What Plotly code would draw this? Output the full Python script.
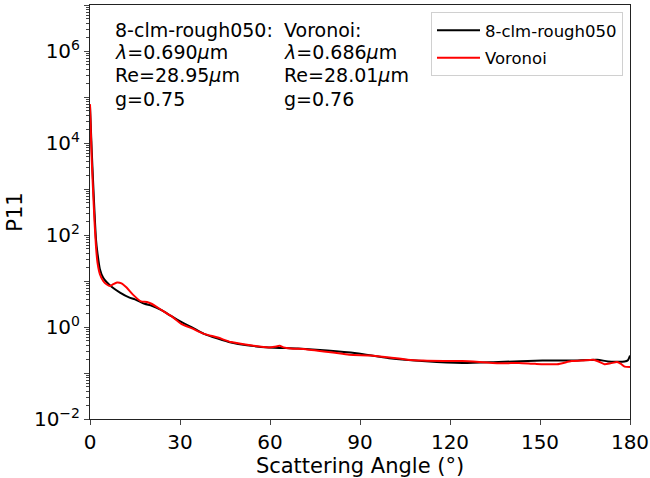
import plotly.graph_objects as go

# --- data ---
angle_black = [0, 0.3, 0.6, 1.0, 1.5, 2.0, 2.5, 3.3, 4.4, 5.5, 7.3, 10, 13, 15, 18.2, 20.6, 24, 27,
               30.4, 34, 38, 42.6, 47, 52.3, 59.6, 69.3, 79.1, 88.8, 99.7, 111.9, 124.1, 136.2,
               150.8, 160.5, 169.1, 172.7, 178.2, 179.3, 180]
p11_black = [63000, 20000, 6300, 1600, 320, 80, 40, 18, 11.7, 9.5, 7.4, 5.6, 4.4, 4.0, 3.2, 2.9, 2.3, 1.74,
             1.29, 0.98, 0.71, 0.56, 0.46, 0.40, 0.36, 0.34, 0.31, 0.27, 0.21, 0.18, 0.166, 0.174,
             0.186, 0.186, 0.195, 0.178, 0.178, 0.19, 0.24]

angle_red = [0, 0.3, 0.6, 1.0, 1.5, 2.0, 2.5, 3.3, 4.4, 5.5, 6.7, 7.5, 9, 10.5, 12.2, 14.4, 17, 19, 20.5,
             24, 27, 30.4, 34, 38, 42.6, 47, 53.5, 59.6, 61.5, 63.2, 64.5, 66.9, 72, 76.6, 81, 86.4,
             93.6, 99, 105.8, 111, 117.9, 124.1, 130, 137.4, 143, 148.4, 155.7, 160.5, 164, 167.8,
             169.5, 171.5, 173.5, 175.7, 177, 178.2, 180]
p11_red = [70000, 16000, 4000, 1000, 200, 56, 25, 14, 10, 8.5, 7.8, 8.3, 9.3, 8.9, 7.2, 5.0, 3.6, 3.5, 3.2,
           2.3, 1.74, 1.17, 0.93, 0.71, 0.59, 0.47, 0.40, 0.36, 0.37, 0.39, 0.36, 0.34, 0.33, 0.30, 0.28, 0.25,
           0.24, 0.22, 0.195, 0.186, 0.182, 0.182, 0.174, 0.162, 0.166, 0.158, 0.155, 0.182, 0.186, 0.195,
           0.178, 0.155, 0.162, 0.174, 0.158, 0.138, 0.135]

x_ticks = [0, 30, 60, 90, 120, 150, 180]
y_tickvals = [1e-2, 1e-1, 1e0, 1e1, 1e2, 1e3, 1e4, 1e5, 1e6, 1e7]
y_ticktext = ["10<sup>−2</sup>", "", "10<sup>0</sup>", "", "10<sup>2</sup>", "",
              "10<sup>4</sup>", "", "10<sup>6</sup>", ""]
y_decades = [-2, -1, 0, 1, 2, 3, 4, 5, 6]
y_minor_digits = [2, 3, 4, 5, 6, 7, 8, 9]

name_black = "8-clm-rough050"
name_red = "Voronoi"
lines_black = ["8-clm-rough050:", "<i>λ</i>=0.690<i>μ</i>m", "Re=28.95<i>μ</i>m", "g=0.75"]
lines_red = ["Voronoi:", "<i>λ</i>=0.686<i>μ</i>m", "Re=28.01<i>μ</i>m", "g=0.76"]

FONT = "DejaVu Sans"
W, H = 650, 478
ML, MR, MT, MB = 90, 20, 5, 59
plot_h = H - MT - MB
plot_w = W - ML - MR

minor_vals = [d * 10 ** e for e in y_decades for d in y_minor_digits]

fig = go.Figure()
fig.add_trace(go.Scatter(x=angle_black, y=p11_black, mode="lines", name=name_black, legendgroup="a",
                         line=dict(color="black", width=2, shape="spline", smoothing=0.6)))
fig.add_trace(go.Scatter(x=angle_red, y=p11_red, mode="lines", name=name_red, legendgroup="b",
                         line=dict(color="#ff0000", width=2, shape="spline", smoothing=0.6)))

line_centers_px = [29.5, 52.5, 75.5, 98.5]
for col_x_px, lines in ((113, lines_black), (282, lines_red)):
    for ypx, txt in zip(line_centers_px, lines):
        fig.add_annotation(x=(col_x_px - ML) / plot_w, y=1 - (ypx - MT) / plot_h,
                           xref="paper", yref="paper", xanchor="left", yanchor="middle",
                           text=txt, showarrow=False, align="left",
                           font=dict(family=FONT, size=19, color="black"))

fig.update_layout(
    width=W, height=H,
    margin=dict(l=ML, r=MR, t=MT, b=MB),
    paper_bgcolor="white", plot_bgcolor="white",
    font=dict(family=FONT, color="black"),
    legend=dict(x=(623 - ML) / plot_w, y=1 - (12 - MT) / plot_h, xanchor="right", yanchor="top",
                bgcolor="rgba(255,255,255,0.8)", bordercolor="#d0d0d0", borderwidth=1,
                itemwidth=43, tracegroupgap=3, traceorder="grouped",
                font=dict(family=FONT, size=16.5)),
    xaxis=dict(range=[0, 180], tickvals=x_ticks, ticks="outside", ticklen=5, tickwidth=1,
               showgrid=False, zeroline=False, showline=True, linecolor="#222222", linewidth=1, mirror=True,
               automargin=False,
               tickfont=dict(size=20), title=dict(text="Scattering Angle (°)", font=dict(size=21), standoff=3)),
    yaxis=dict(type="log", range=[-2, 7.0], tickvals=y_tickvals, ticktext=y_ticktext,
               ticks="outside", ticklen=5, tickwidth=1, showgrid=False, zeroline=False,
               showline=True, linecolor="#222222", linewidth=1, mirror=True, automargin=False,
               minor=dict(tickmode="array", tickvals=minor_vals, ticks="outside", ticklen=3,
                          tickwidth=1, showgrid=False),
               tickfont=dict(size=20), title=dict(text="P11", font=dict(size=21), standoff=5)),
)

fig.write_html("out.html", config={"displayModeBar": False},
               post_script="document.body.style.margin='0';")
